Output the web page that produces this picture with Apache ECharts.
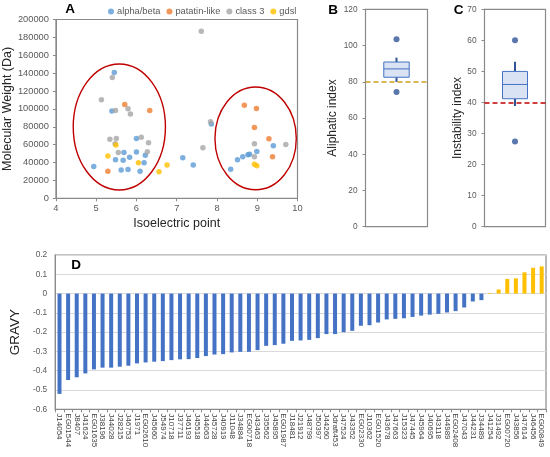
<!DOCTYPE html>
<html>
<head>
<meta charset="utf-8">
<script src="https://cdn.jsdelivr.net/npm/echarts@6/dist/echarts.min.js"></script>
<style>html,body{margin:0;padding:0;background:#fff}#c{width:550px;height:457px}</style>
</head>
<body>
<div id="c"></div>
<script>
// ---- Panel A: isoelectric point vs molecular weight ----
const alphaBeta = [[4.94,35500],[5.45,140800],[5.39,97600],[5.48,43000],[5.67,42600],[5.69,51200],[5.62,31700],[5.79,32300],[5.83,46000],[6.0,51900],[6.0,66900],[6.09,30300],[6.19,39700],[6.22,48200],[7.15,45300],[7.41,37200],[7.86,83200],[8.34,32400],[8.51,43000],[8.64,46400],[8.77,48800],[8.81,49400],[8.99,52400],[9.40,58800]];
const patatinLike = [[5.29,30200],[5.71,105000],[6.33,98300],[8.68,104200],[8.98,100500],[8.93,79200],[9.29,66600],[9.38,46600]];
const class3 = [[5.13,110100],[5.40,135000],[5.48,98100],[5.79,100300],[5.85,94200],[5.34,66100],[5.50,66800],[6.12,68300],[5.47,61100],[6.30,62000],[5.55,51200],[6.27,52000],[7.61,186800],[7.65,56600],[7.84,85500],[8.93,61000],[8.93,46400],[9.71,60200]];
const gdsl = [[5.29,47400],[5.49,59700],[6.05,39700],[6.56,29600],[6.76,37300],[8.93,38000],[8.99,36400]];
// ellipses: [center pI, center MW, radius pI, radius MW]
const clusterEllipses = [[5.575,79800,1.145,70500],[8.96,67000,1.01,57500]];

// ---- Panel B: aliphatic index ----
const aliphaticBox = [79.9, 82.5, 87.1, 90.9, 93.3];   // min, Q1, median, Q3, max
const aliphaticOutliers = [103.4, 74.4];
const aliphaticThreshold = 80;

// ---- Panel C: instability index ----
const instabilityBox = [38.9, 41.2, 45.8, 50.0, 53.1];
const instabilityOutliers = [60.0, 27.4];
const instabilityThreshold = 40;

// ---- Panel D: GRAVY ----
const gravyLabels = ['J14054','EG01544','J8407','J41624','EG01635','J38196','J44028','J28215','J46753','J1971','EG02610','J45660','J54974','J10718','J37711','J46193','J45518','J44063','J45728','J40919','J11048','J34884','EG00718','J43463','J35562','J45895','EG01987','J18481','J21912','J48799','J50397','J44260','Jdraft453','J47524','J43352','EG02330','J10362','EG01520','J43678','J47663','J15323','J47445','J45964','J40695','J43118','J44989','EG02408','J47043','J44231','J34489','J41254','J31492','EG00720','J43856','J47614','J46456','EG00849'];
const gravyValues = [-0.52,-0.448,-0.434,-0.414,-0.393,-0.384,-0.384,-0.379,-0.374,-0.362,-0.357,-0.353,-0.35,-0.345,-0.341,-0.34,-0.334,-0.324,-0.316,-0.314,-0.305,-0.302,-0.302,-0.293,-0.271,-0.267,-0.26,-0.245,-0.243,-0.24,-0.231,-0.21,-0.21,-0.2,-0.193,-0.167,-0.164,-0.15,-0.134,-0.131,-0.128,-0.121,-0.114,-0.109,-0.105,-0.098,-0.091,-0.072,-0.041,-0.034,0.003,0.021,0.076,0.079,0.11,0.134,0.141];

const FONT = 'Arial, "Liberation Sans", sans-serif';
const TICK = '#595959';
const LINE = '#8a8a8a';
const NAMEC = '#262626';

const axLine = {show:true, onZero:false, lineStyle:{color:LINE, width:1}};
const axTick = {show:true, length:3, lineStyle:{color:LINE}};
const plain = v => String(Math.round(v*1000)/1000);

function boxRender(params, api){
  const x = api.value(0);
  const lo = api.coord([x, api.value(1)]);
  const q1 = api.coord([x, api.value(2)]);
  const md = api.coord([x, api.value(3)]);
  const q3 = api.coord([x, api.value(4)]);
  const hi = api.coord([x, api.value(5)]);
  const bw = api.size([1,0])[0]*0.41;
  const cx = lo[0];
  const ws = {stroke:'#2F5597', lineWidth:2};
  return {type:'group', children:[
    {type:'line', shape:{x1:cx,y1:hi[1],x2:cx,y2:q3[1]}, style:ws},
    {type:'line', shape:{x1:cx,y1:q1[1],x2:cx,y2:lo[1]}, style:ws},
    {type:'rect', shape:{x:cx-bw/2,y:q3[1],width:bw,height:q1[1]-q3[1]}, style:{fill:'#DAE3F3',stroke:'#4472C4',lineWidth:1}},
    {type:'line', shape:{x1:cx-bw/2,y1:md[1],x2:cx+bw/2,y2:md[1]}, style:{stroke:'#4472C4',lineWidth:1}}
  ]};
}

const chart = echarts.init(document.getElementById('c'), null, {renderer:'canvas'});
const option = {
  animation:false,
  textStyle:{fontFamily:FONT},
  legend:{
    data:['alpha/beta','patatin-like','class 3','gdsl'],
    left:103, top:2, itemWidth:6, itemHeight:6, itemGap:6,
    icon:'circle',
    textStyle:{fontSize:9.3, color:TICK, fontFamily:FONT, padding:[0,0,0,-2]}
  },
  grid:[
    {left:54.5, top:19.5, width:243, height:178.8, show:true, borderColor:LINE, borderWidth:1.2, containLabel:false},
    {left:365.5, top:9.3, width:62, height:217.4, show:true, borderColor:LINE, borderWidth:1.2},
    {left:484.5, top:9.3, width:61, height:217.4, show:true, borderColor:LINE, borderWidth:1.2},
    {left:52, top:255, width:494, height:154.3, show:true, borderColor:LINE, borderWidth:1.2}
  ],
  xAxis:[
    {gridIndex:0, type:'value', min:4, max:10, interval:1, axisLine:axLine, axisTick:axTick,
     axisLabel:{fontSize:9.3, color:TICK, margin:6, formatter:plain}, splitLine:{show:false},
     name:'Isoelectric point', nameLocation:'middle', nameGap:19, nameTextStyle:{fontSize:12.5, color:NAMEC}},
    {gridIndex:1, type:'category', data:['Aliphatic'], show:false},
    {gridIndex:2, type:'category', data:['Instability'], show:false},
    {gridIndex:3, type:'category', data:gravyLabels, axisLine:axLine, axisTick:{show:true,length:3,lineStyle:{color:LINE}},
     axisLabel:{interval:0, rotate:-90, fontSize:8, color:'#404040', margin:4}, splitLine:{show:false}}
  ],
  yAxis:[
    {gridIndex:0, type:'value', min:0, max:200000, interval:20000, axisLine:axLine, axisTick:axTick,
     axisLabel:{fontSize:9.3, color:TICK, margin:7, formatter:plain}, splitLine:{show:false},
     name:'Molecular Weight (Da)', nameLocation:'middle', nameGap:35, nameTextStyle:{fontSize:12.5, color:NAMEC}},
    {gridIndex:1, type:'value', min:0, max:120, interval:20, axisLine:axLine, axisTick:axTick,
     axisLabel:{fontSize:8.3, color:TICK, margin:8, formatter:plain}, splitLine:{show:false},
     name:'Aliphatic index', nameLocation:'middle', nameGap:27, nameTextStyle:{fontSize:12, color:NAMEC}},
    {gridIndex:2, type:'value', min:0, max:70, interval:10, axisLine:axLine, axisTick:axTick,
     axisLabel:{fontSize:8.3, color:TICK, margin:8, formatter:plain}, splitLine:{show:false},
     name:'Instability index', nameLocation:'middle', nameGap:21, nameTextStyle:{fontSize:12, color:NAMEC}},
    {gridIndex:3, type:'value', min:-0.6, max:0.2, interval:0.1, axisLine:axLine, axisTick:{show:false},
     axisLabel:{fontSize:8.3, color:TICK, margin:8, formatter:plain}, splitLine:{show:true, lineStyle:{color:'#d9d9d9', width:1}},
     name:'GRAVY', nameLocation:'middle', nameGap:29, nameTextStyle:{fontSize:13.5, color:NAMEC}}
  ],
  series:[
    {name:'alpha/beta', type:'scatter', xAxisIndex:0, yAxisIndex:0, data:alphaBeta, symbolSize:5.5, itemStyle:{color:'#5B9BD5'}},
    {name:'patatin-like', type:'scatter', xAxisIndex:0, yAxisIndex:0, data:patatinLike, symbolSize:5.5, itemStyle:{color:'#ED7D31'}},
    {name:'class 3', type:'scatter', xAxisIndex:0, yAxisIndex:0, data:class3, symbolSize:5.5, itemStyle:{color:'#A5A5A5'}},
    {name:'gdsl', type:'scatter', xAxisIndex:0, yAxisIndex:0, data:gdsl, symbolSize:5.5, itemStyle:{color:'#FFC000'}},
    {name:'clusters', type:'custom', xAxisIndex:0, yAxisIndex:0, silent:true, data:clusterEllipses,
     encode:{x:0, y:1}, z:5,
     renderItem:function(params, api){
       const c = api.coord([api.value(0), api.value(1)]);
       const s = api.size([api.value(2), api.value(3)]);
       return {type:'ellipse', shape:{cx:c[0], cy:c[1], rx:s[0], ry:s[1]}, style:{fill:'none', stroke:'#C00000', lineWidth:1.4}};
     }},
    {name:'aliphaticBox', type:'custom', xAxisIndex:1, yAxisIndex:1, data:[[0].concat(aliphaticBox)],
     encode:{x:0, y:[1,2,3,4,5]}, renderItem:boxRender},
    {name:'aliphaticOut', type:'scatter', xAxisIndex:1, yAxisIndex:1, data:aliphaticOutliers.map(v=>[0,v]),
     symbolSize:6, itemStyle:{color:'#2F5597'}, z:4,
     markLine:{silent:true, symbol:'none', label:{show:false}, data:[{yAxis:aliphaticThreshold}],
       lineStyle:{color:'#D09E1E', type:[5,3], width:1.5}}},
    {name:'instabilityBox', type:'custom', xAxisIndex:2, yAxisIndex:2, data:[[0].concat(instabilityBox)],
     encode:{x:0, y:[1,2,3,4,5]}, renderItem:boxRender},
    {name:'instabilityOut', type:'scatter', xAxisIndex:2, yAxisIndex:2, data:instabilityOutliers.map(v=>[0,v]),
     symbolSize:6, itemStyle:{color:'#2F5597'}, z:4,
     markLine:{silent:true, symbol:'none', label:{show:false}, data:[{yAxis:instabilityThreshold}],
       lineStyle:{color:'#C00000', type:[5,3], width:1.5}}},
    {name:'GRAVY', type:'bar', xAxisIndex:3, yAxisIndex:3, barWidth:4,
     data:gravyValues.map(v=>({value:v, itemStyle:{color: v>0 ? '#FFC000' : '#4472C4'}}))}
  ],
  graphic:[
    {type:'text', x:70, y:9.5, style:{text:'A', fontSize:13.5, fontWeight:'bold', fill:'#000', fontFamily:FONT, align:'center', verticalAlign:'middle'}},
    {type:'text', x:333, y:10, style:{text:'B', fontSize:13.5, fontWeight:'bold', fill:'#000', fontFamily:FONT, align:'center', verticalAlign:'middle'}},
    {type:'text', x:458.5, y:10, style:{text:'C', fontSize:13.5, fontWeight:'bold', fill:'#000', fontFamily:FONT, align:'center', verticalAlign:'middle'}},
    {type:'text', x:76, y:265, style:{text:'D', fontSize:13.5, fontWeight:'bold', fill:'#000', fontFamily:FONT, align:'center', verticalAlign:'middle'}}
  ]
};
chart.setOption(option);
</script>
</body>
</html>
